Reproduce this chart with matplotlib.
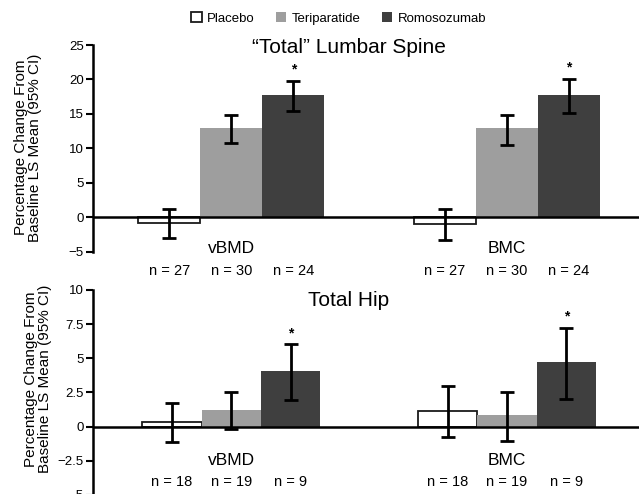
import matplotlib
matplotlib.use("Agg")
import matplotlib.pyplot as plt
from matplotlib.patches import Patch
import numpy as np

plt.rcParams['font.family'] = ['Liberation Sans', 'DejaVu Sans']

groups = ["vBMD", "BMC"]
treatments = ["Placebo", "Teriparatide", "Romosozumab"]

# Lumbar spine: means and 95% CI (lower, upper)
ls_mean = {"Placebo": [-0.9, -1.0], "Teriparatide": [12.9, 12.9], "Romosozumab": [17.7, 17.7]}
ls_low = {"Placebo": [-3.0, -3.3], "Teriparatide": [10.75, 10.55], "Romosozumab": [15.35, 15.2]}
ls_high = {"Placebo": [1.25, 1.25], "Teriparatide": [14.8, 14.8], "Romosozumab": [19.8, 20.1]}
ls_n = {"Placebo": [27, 27], "Teriparatide": [30, 30], "Romosozumab": [24, 24]}
ls_sig = {"Placebo": [False, False], "Teriparatide": [False, False], "Romosozumab": [True, True]}

# Total hip
th_mean = {"Placebo": [0.32, 1.15], "Teriparatide": [1.24, 0.88], "Romosozumab": [4.1, 4.7]}
th_low = {"Placebo": [-1.12, -0.78], "Teriparatide": [-0.19, -1.07], "Romosozumab": [1.95, 2.0]}
th_high = {"Placebo": [1.73, 2.97], "Teriparatide": [2.56, 2.56], "Romosozumab": [6.02, 7.24]}
th_n = {"Placebo": [18, 18], "Teriparatide": [19, 19], "Romosozumab": [9, 9]}
th_sig = {"Placebo": [False, False], "Teriparatide": [False, False], "Romosozumab": [True, True]}

ls_ticks = [-5, 0, 5, 10, 15, 20, 25]
ls_ticklabels = ["\u22125", "0", "5", "10", "15", "20", "25"]
th_ticks = [-5, -2.5, 0, 2.5, 5, 7.5, 10]
th_ticklabels = ["\u22125", "\u22122.5", "0", "2.5", "5", "7.5", "10"]

styles = {
    "Placebo": dict(facecolor="white", edgecolor="#1a1a1a", linewidth=1.3),
    "Teriparatide": dict(facecolor="#9e9e9e", edgecolor="none"),
    "Romosozumab": dict(facecolor="#3f3f3f", edgecolor="none"),
}

fig = plt.figure(figsize=(6.39, 4.94), dpi=100)
ax1 = fig.add_axes([0.146, 0.4905, 0.854, 0.4184])
ax2 = fig.add_axes([0.146, -0.002, 0.854, 0.415])

ylabel = "Percentage Change From\nBaseline LS Mean (95% CI)"


def draw(ax, mean, low, high, n, sig, ylim, ticks, ticklabels, title, title_y,
         width, label_y, n_y, star_off, ylab_xy):
    x = np.arange(len(groups))
    for i, t in enumerate(treatments):
        xs = x + (i - 1) * width
        m = np.array(mean[t])
        lo = np.array(low[t])
        hi = np.array(high[t])
        ax.bar(xs, m, width=width, zorder=2, **styles[t])
        ax.errorbar(xs, m, yerr=[m - lo, hi - m], fmt="none", ecolor="black",
                    elinewidth=2.0, capsize=5, capthick=2.0, zorder=3)
        for j in range(len(groups)):
            if sig[t][j]:
                ax.annotate("*", (xs[j], hi[j]), xytext=(0, star_off),
                            textcoords="offset points", ha="center", va="bottom",
                            fontsize=10, fontweight="bold")
            ax.text(xs[j], n_y, f"n = {n[t][j]}", ha="center", va="center",
                    fontsize=10.5, clip_on=False)
    for j, g in enumerate(groups):
        ax.text(x[j], label_y, g, ha="center", va="center", fontsize=12.5, clip_on=False)
    ax.axhline(0, color="black", linewidth=1.8, zorder=4)
    ax.set_xlim(-0.5005, 1.479)
    ax.set_ylim(*ylim)
    ax.set_yticks(ticks)
    ax.set_yticklabels(ticklabels)
    ax.set_xticks([])
    for s in ["top", "right", "bottom"]:
        ax.spines[s].set_visible(False)
    ax.spines["left"].set_linewidth(1.8)
    ax.tick_params(axis="y", length=5, width=1.5, labelsize=9.5, pad=2)
    ax.set_ylabel(ylabel, fontsize=11, linespacing=0.95)
    ax.yaxis.label.set_va("center")
    ax.yaxis.set_label_coords(*ylab_xy)
    ax.text(0.427, title_y, title, ha="center", va="center", fontsize=15)
    ax.patch.set_alpha(0)


draw(ax1, ls_mean, ls_low, ls_high, ls_n, ls_sig, (-5, 25), ls_ticks, ls_ticklabels,
     "\u201cTotal\u201d Lumbar Spine", 24.7, 0.225, -4.5, -7.76, 3, (-0.1197, 0.505))
draw(ax2, th_mean, th_low, th_high, th_n, th_sig, (-5, 10), th_ticks, th_ticklabels,
     "Total Hip", 9.2, 0.215, -2.5, -4.07, 3, (-0.1014, 0.566))

handles = [Patch(label=t, **styles[t]) for t in treatments]
fig.legend(handles=handles, loc="center", bbox_to_anchor=(0.530, 0.9625), ncol=3,
           frameon=False, fontsize=9.5, handlelength=0.8, handleheight=0.8,
           handletextpad=0.4, columnspacing=1.6)

fig.savefig("out.png", dpi=100)
